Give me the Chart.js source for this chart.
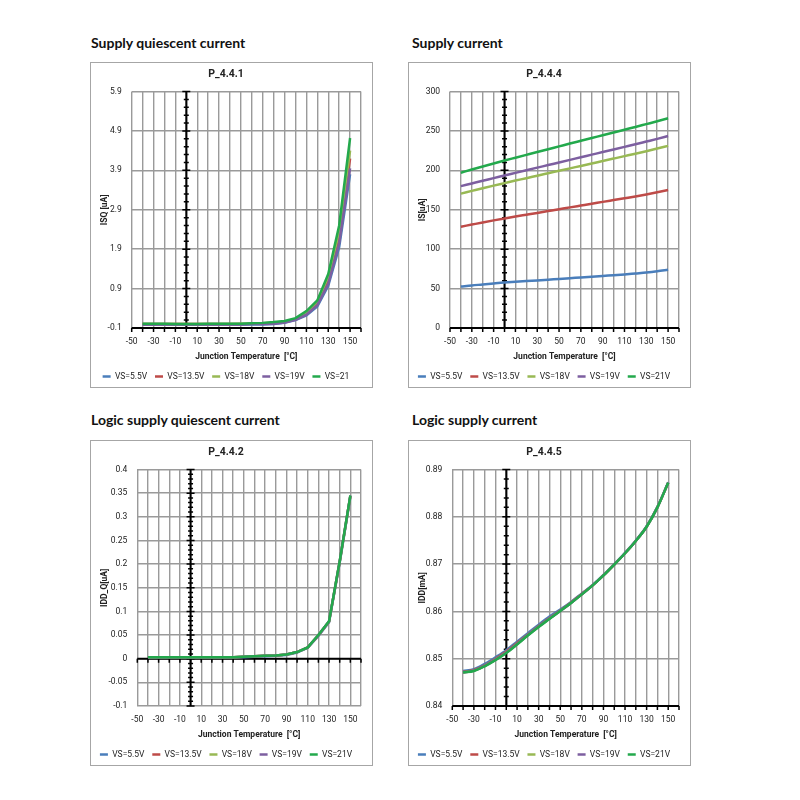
<!DOCTYPE html>
<html>
<head>
<meta charset="utf-8">
<script src="https://cdn.jsdelivr.net/npm/chart.js@4.4.0/dist/chart.umd.min.js"></script>
<style>
body { margin: 0; background: #fff; width: 800px; height: 800px; position: relative; }
h2 { position: absolute; margin: 0; font-family: Lato, sans-serif; font-size: 14px; font-weight: 700; color: #111; line-height: 16px; white-space: nowrap; }
.box { position: absolute; width: 281px; height: 324px; border: 1px solid #a6a6a6; }
</style>
</head>
<body>
<h2 style="left:91px; top:35px">Supply quiescent current</h2>
<h2 style="left:412px; top:35px">Supply current</h2>
<h2 style="left:91px; top:412px">Logic supply quiescent current</h2>
<h2 style="left:412px; top:412px">Logic supply current</h2>

<div class="box" style="left:90px; top:62px"><canvas id="c1"></canvas></div>
<div class="box" style="left:408px; top:62px"><canvas id="c2"></canvas></div>
<div class="box" style="left:90px; top:440px"><canvas id="c3"></canvas></div>
<div class="box" style="left:408px; top:440px"><canvas id="c4"></canvas></div>

<script>
// junction temperature points (°C)
const temps = [-40, -30, -20, -10, 0, 10, 20, 30, 40, 50, 60, 70, 80, 90, 100, 110, 120, 130, 140, 150];

// x axis: grid every 10, labels every 20
const xTicks = [-50, -40, -30, -20, -10, 0, 10, 20, 30, 40, 50, 60, 70, 80, 90, 100, 110, 120, 130, 140, 150, 160];
const xLabels = [-50, -30, -10, 10, 30, 50, 70, 90, 110, 130, 150];

const names = ['VS=5.5V', 'VS=13.5V', 'VS=18V', 'VS=19V', 'VS=21V'];
const names1 = ['VS=5.5V', 'VS=13.5V', 'VS=18V', 'VS=19V', 'VS=21'];

// P_4.4.1  ISQ [uA]
const yTicks1 = [-0.1, 0.9, 1.9, 2.9, 3.9, 4.9, 5.9];
const isq55 = [-0.02, -0.02, -0.02, -0.02, -0.02, -0.02, -0.02, -0.02, -0.02, -0.02, -0.01, -0.01, 0.0, 0.03, 0.1, 0.22, 0.45, 0.97, 1.95, 3.8];
const isq135 = [0.0, 0.0, 0.0, 0.0, 0.0, 0.0, 0.0, 0.0, 0.0, 0.0, 0.01, 0.02, 0.03, 0.05, 0.12, 0.28, 0.55, 1.1, 2.2, 4.2];
const isq18 = [0.0, 0.0, 0.0, 0.0, 0.0, 0.0, 0.0, 0.0, 0.0, 0.01, 0.01, 0.02, 0.04, 0.06, 0.13, 0.3, 0.58, 1.2, 2.35, 4.4];
const isq19 = [-0.01, -0.01, -0.01, -0.01, -0.01, -0.01, -0.01, -0.01, -0.01, -0.01, 0.0, 0.0, 0.01, 0.04, 0.11, 0.24, 0.48, 1.02, 2.05, 3.95];
const isq21 = [0.01, 0.01, 0.01, 0.0, 0.0, 0.0, 0.01, 0.01, 0.01, 0.01, 0.02, 0.03, 0.05, 0.08, 0.15, 0.33, 0.6, 1.27, 2.5, 4.72];

// P_4.4.4  IS[uA]
const yTicks2 = [0, 50, 100, 150, 200, 250, 300];
const is55 = [52.5, 54, 55.2, 56.5, 57.7, 58.6, 59.5, 60.4, 61.3, 62.3, 63.2, 64.1, 65, 66, 67, 68, 69.2, 70.4, 72, 74];
const is135 = [128.5, 131.2, 133.9, 136.5, 139, 141.4, 143.7, 146, 148.3, 150.6, 153, 155.3, 157.6, 160, 162.3, 164.6, 166.9, 169.4, 172.1, 175];
const is18 = [170.5, 173.9, 177.3, 180.6, 183.8, 187, 190, 193.2, 196.3, 199.4, 202.5, 205.6, 208.7, 211.8, 214.9, 218, 221.1, 224.3, 227.6, 231];
const is19 = [180, 183.4, 186.8, 190.1, 193.5, 196.8, 200.1, 203.4, 206.7, 210, 213.3, 216.6, 219.9, 223.2, 226.5, 229.8, 233.1, 236.5, 239.9, 243.5];
const is21 = [197, 201, 204.8, 208.6, 212.4, 216, 219.6, 223.2, 226.8, 230.4, 234, 237.5, 241, 244.5, 248, 251.5, 255, 258.6, 262.2, 266];

// P_4.4.2  IDD_Q[uA]
const yTicks3 = [-0.1, -0.05, 0, 0.05, 0.1, 0.15, 0.2, 0.25, 0.3, 0.35, 0.4];
const idq55 = [0.002, 0.002, 0.002, 0.002, 0.002, 0.002, 0.002, 0.002, 0.003, 0.003, 0.004, 0.005, 0.006, 0.008, 0.013, 0.023, 0.048, 0.077, 0.203, 0.342];
const idq135 = [0.003, 0.003, 0.003, 0.003, 0.003, 0.003, 0.003, 0.003, 0.003, 0.004, 0.005, 0.006, 0.007, 0.009, 0.014, 0.024, 0.049, 0.078, 0.205, 0.344];
const idq18 = [0.003, 0.003, 0.003, 0.003, 0.003, 0.003, 0.003, 0.003, 0.003, 0.004, 0.005, 0.006, 0.007, 0.009, 0.014, 0.024, 0.05, 0.079, 0.205, 0.344];
const idq19 = [0.003, 0.003, 0.003, 0.003, 0.003, 0.003, 0.003, 0.003, 0.003, 0.004, 0.005, 0.006, 0.007, 0.009, 0.014, 0.024, 0.05, 0.079, 0.206, 0.345];
const idq21 = [0.003, 0.003, 0.003, 0.003, 0.003, 0.003, 0.003, 0.003, 0.003, 0.004, 0.005, 0.006, 0.007, 0.009, 0.014, 0.024, 0.05, 0.079, 0.206, 0.345];

// P_4.4.5  IDD[mA]
const yTicks4 = [0.84, 0.85, 0.86, 0.87, 0.88, 0.89];
const idd55 = [0.8474, 0.8478, 0.8489, 0.8503, 0.8518, 0.8536, 0.8554, 0.8572, 0.8589, 0.8604, 0.862, 0.8638, 0.8656, 0.8677, 0.87, 0.8724, 0.875, 0.878, 0.8821, 0.8873];
const idd135 = [0.8472, 0.8476, 0.8486, 0.85, 0.8515, 0.8533, 0.8551, 0.8569, 0.8586, 0.8602, 0.8619, 0.8637, 0.8655, 0.8676, 0.8699, 0.8723, 0.8749, 0.8779, 0.882, 0.8872];
const idd18 = [0.8471, 0.8475, 0.8485, 0.8498, 0.8513, 0.8531, 0.855, 0.8568, 0.8585, 0.8601, 0.8618, 0.8636, 0.8655, 0.8676, 0.8699, 0.8723, 0.8749, 0.8779, 0.882, 0.8872];
const idd19 = [0.8471, 0.8475, 0.8485, 0.8498, 0.8513, 0.8531, 0.855, 0.8568, 0.8585, 0.8601, 0.8618, 0.8636, 0.8655, 0.8676, 0.8699, 0.8723, 0.8749, 0.8779, 0.882, 0.8872];
const idd21 = [0.8471, 0.8474, 0.8484, 0.8497, 0.8512, 0.853, 0.8549, 0.8567, 0.8584, 0.8601, 0.8618, 0.8636, 0.8655, 0.8676, 0.8699, 0.8723, 0.8749, 0.8779, 0.882, 0.8872];

const colors = ['#4a7ebb', '#be4b48', '#98b954', '#7d5fa0', '#23a94c'];

Chart.defaults.font.family = "Roboto, sans-serif";
Chart.defaults.color = '#222';

// black axis lines crossing inside the plot, like the excel original
const crossAxes = {
  id: 'crossAxes',
  beforeDatasetsDraw(chart, args, opts) {
    const ctx = chart.ctx, a = chart.chartArea;
    const x = chart.scales.x, y = chart.scales.y;
    const px = x.getPixelForValue(opts.atX);
    const py = y.getPixelForValue(opts.atY);
    ctx.save();
    ctx.strokeStyle = '#000';
    ctx.lineWidth = 2;
    ctx.beginPath();
    ctx.moveTo(px, a.top);
    ctx.lineTo(px, a.bottom);
    ctx.moveTo(a.left, py);
    ctx.lineTo(a.right, py);
    ctx.stroke();

    ctx.lineWidth = 1.5;
    ctx.beginPath();
    x.ticks.forEach(function (t) {
      const xx = x.getPixelForValue(t.value);
      ctx.moveTo(xx, py);
      ctx.lineTo(xx, py + 4);
    });
    y.ticks.forEach(function (t) {
      const yy = y.getPixelForValue(t.value);
      ctx.moveTo(px - 4, yy);
      ctx.lineTo(px + 4, yy);
    });
    const n = Math.round((y.max - y.min) / opts.minor);
    for (let i = 1; i < n; i++) {
      const yy = y.getPixelForValue(y.min + i * opts.minor);
      ctx.moveTo(px - 2.5, yy);
      ctx.lineTo(px + 2.5, yy);
    }
    ctx.stroke();
    ctx.restore();
  }
};

function makeChart(id, title, yTitle, yTicks, yWidth, cross, labels, series, smooth) {
  const datasets = series.map(function (s, i) {
    return {
      label: labels[i],
      data: s,
      borderColor: colors[i],
      backgroundColor: colors[i],
      borderWidth: 2.5,
      pointRadius: 0,
      cubicInterpolationMode: smooth ? 'monotone' : 'default',
      order: series.length - i
    };
  });

  new Chart(document.getElementById(id), {
    type: 'line',
    data: { labels: temps, datasets: datasets },
    plugins: [crossAxes],
    options: {
      responsive: true,
      maintainAspectRatio: false,
      animation: false,
      layout: { padding: { left: 0, right: 11, top: 0, bottom: 0 } },
      scales: {
        x: {
          type: 'linear',
          min: xTicks[0],
          max: xTicks[xTicks.length - 1],
          afterBuildTicks: function (scale) {
            scale.ticks = xTicks.map(function (v) { return { value: v }; });
          },
          afterFit: function (scale) { scale.height = 36.4; },
          ticks: {
            autoSkip: false,
            maxRotation: 0,
            minRotation: 0,
            padding: 8.5,
            font: { size: 8.5 },
            callback: function (v) { return xLabels.indexOf(v) >= 0 ? String(v) : ''; }
          },
          grid: { color: '#9a9a9a', lineWidth: 1.4, drawTicks: false },
          border: { display: false },
          title: {
            display: true,
            text: 'Junction Temperature  [°C]',
            font: { size: 8.5, weight: 'bold' },
            padding: { top: 0, bottom: 2.9 }
          }
        },
        y: {
          min: yTicks[0],
          max: yTicks[yTicks.length - 1],
          afterBuildTicks: function (scale) {
            scale.ticks = yTicks.map(function (v) { return { value: v }; });
          },
          afterFit: function (scale) { scale.width = yWidth; },
          ticks: {
            padding: 10,
            font: { size: 8.5 },
            callback: function (v) { return String(v); }
          },
          grid: { color: '#9a9a9a', lineWidth: 1.4, drawTicks: false },
          border: { display: false },
          title: {
            display: true,
            text: yTitle,
            font: { size: 8.5, weight: 'bold' },
            padding: { top: 9, bottom: 0 }
          }
        }
      },
      plugins: {
        crossAxes: cross,
        title: {
          display: true,
          text: title,
          color: '#222',
          font: { size: 10.5, weight: 'bold' },
          padding: { top: 5.2, bottom: 10.7 }
        },
        legend: {
          position: 'bottom',
          maxHeight: 22.6,
          labels: {
            usePointStyle: true,
            pointStyle: 'line',
            pointStyleWidth: 8,
            padding: 7.8,
            font: { size: 8.5 },
            sort: function (a, b) { return a.datasetIndex - b.datasetIndex; }
          }
        },
        tooltip: { enabled: false }
      }
    }
  });
}

makeChart('c1', 'P_4.4.1', 'ISQ [uA]', yTicks1, 40.7, { atX: 0, atY: -0.1, minor: 0.2 },
  names1, [isq55, isq135, isq18, isq19, isq21], false);
makeChart('c2', 'P_4.4.4', 'IS[uA]', yTicks2, 41, { atX: 0, atY: 0, minor: 10 },
  names, [is55, is135, is18, is19, is21], true);
makeChart('c3', 'P_4.4.2', 'IDD_Q[uA]', yTicks3, 46.3, { atX: 0, atY: 0, minor: 0.01 },
  names, [idq55, idq135, idq18, idq19, idq21], false);
makeChart('c4', 'P_4.4.5', 'IDD[mA]', yTicks4, 43.3, { atX: 0, atY: 0.84, minor: 0.002 },
  names, [idd55, idd135, idd18, idd19, idd21], true);
</script>
</body>
</html>
